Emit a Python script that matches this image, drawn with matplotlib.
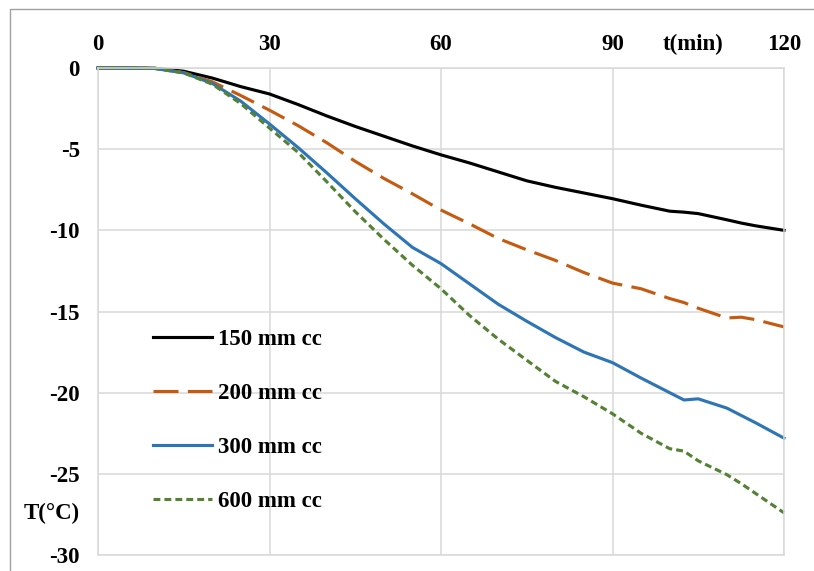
import matplotlib.pyplot as plt
from matplotlib.patches import Rectangle

# time (min) and temperature (°C)
t = [0, 5, 10, 15, 20, 25, 30, 35, 40, 45, 50, 55, 60, 65, 70, 75, 80, 85,
     90, 95, 100, 102.5, 105, 110, 112.5, 115, 120]

temp_150 = [0, 0, -0.02, -0.2, -0.62, -1.15, -1.6, -2.25, -2.95, -3.6, -4.2,
            -4.8, -5.35, -5.85, -6.4, -6.95, -7.35, -7.7, -8.05, -8.45, -8.82,
            -8.88, -8.97, -9.35, -9.55, -9.72, -10.0]
temp_200 = [0, 0, -0.02, -0.28, -0.85, -1.7, -2.6, -3.55, -4.6, -5.75, -6.8,
            -7.75, -8.75, -9.6, -10.5, -11.2, -11.85, -12.6, -13.25, -13.6,
            -14.2, -14.45, -14.8, -15.4, -15.35, -15.5, -15.95]
temp_300 = [0, 0, -0.03, -0.3, -0.95, -2.05, -3.45, -4.9, -6.45, -8.05, -9.6,
            -11.05, -12.05, -13.3, -14.55, -15.6, -16.6, -17.5, -18.15, -19.1,
            -20.0, -20.45, -20.38, -20.95, -21.4, -21.85, -22.8]
temp_600 = [0, 0, -0.03, -0.3, -1.0, -2.2, -3.7, -5.2, -7.0, -8.85, -10.55,
            -12.15, -13.6, -15.25, -16.7, -18.0, -19.3, -20.25, -21.3, -22.5,
            -23.45, -23.6, -24.2, -25.05, -25.6, -26.2, -27.4]

labels = ['150 mm cc', '200 mm cc', '300 mm cc', '600 mm cc']
xticks = [0, 30, 60, 90, 120]
yticks = [0, -5, -10, -15, -20, -25, -30]

plt.rcParams['font.family'] = ['Liberation Serif', 'DejaVu Serif']
plt.rcParams['font.weight'] = 'bold'
plt.rcParams['axes.unicode_minus'] = False

FS = 16.5
W, H = 814, 571
fig = plt.figure(figsize=(W / 100, H / 100), dpi=100)
ax = fig.add_axes([98 / W, 1 - 555 / H, (784 - 98) / W, (555 - 68) / H])

grid_c = '#d9d9d9'
ax.plot(t, temp_150, color='black', lw=2.25, label=labels[0], clip_on=False)
ax.plot(t, temp_200, color='#c55a11', lw=2.25, dashes=(8, 3),
        label=labels[1], clip_on=False)
ax.plot(t, temp_300, color='#2e75b6', lw=2.25, label=labels[2], clip_on=False)
ax.plot(t, temp_600, color='#548235', lw=2.25, dashes=(2.2, 1.3),
        label=labels[3], clip_on=False)

ax.set_xlim(0, 120)
ax.set_ylim(-30, 0)
ax.set_xticks(xticks)
ax.set_yticks(yticks)
ax.set_xticklabels([str(v) for v in xticks])
ax.set_yticklabels([str(v) for v in yticks])
ax.xaxis.tick_top()
ax.tick_params(axis='x', length=0, pad=9, labelsize=FS)
ax.tick_params(axis='y', length=0, pad=13, labelsize=FS)
ax.grid(True, color=grid_c, lw=1.1)
ax.set_axisbelow(True)
for s in ax.spines.values():
    s.set_color(grid_c)
    s.set_linewidth(1.1)

fig.text(693 / W, 1 - 50 / H, 't(min)', ha='center', va='baseline', fontsize=FS)
fig.text(80 / W, 1 - 519 / H, 'T(°C)', ha='right', va='baseline', fontsize=FS)

ax.legend(loc='upper left', bbox_to_anchor=(153 / W, 1 - 329 / H),
          bbox_transform=fig.transFigure, frameon=False, fontsize=FS,
          borderpad=0, borderaxespad=0, handlelength=2.58,
          handletextpad=0.26, labelspacing=1.44)

fig.patches.append(Rectangle((10 / W, -0.1), 1, 1.1 - 9 / H,
                             transform=fig.transFigure, fill=False,
                             ec='#a0a0a0', lw=1))

fig.savefig('out.png', dpi=100)
